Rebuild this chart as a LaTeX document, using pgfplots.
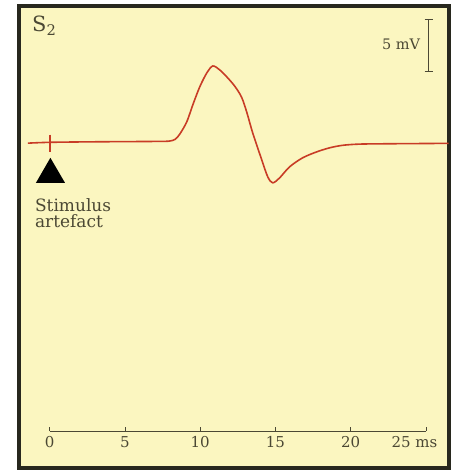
\documentclass[border=0pt]{standalone}
\usepackage{fontspec}
\setmainfont{DejaVu Serif}
\usepackage{pgfplots}
\pgfplotsset{compat=1.18}
\definecolor{paper}{RGB}{251,246,192}
\definecolor{frame}{RGB}{40,40,30}
\definecolor{ink}{RGB}{75,72,52}
\definecolor{trace}{RGB}{200,60,38}

\begin{document}
\begin{tikzpicture}
\begin{axis}[
    scale only axis,
    width=430pt, height=462pt,
    xmin=-2.037, xmax=26.5,
    ymin=-31.3, ymax=13.125,
    xtick=\empty, ytick=\empty,
    axis line style={line width=4pt, color=frame},
    axis background/.style={fill=paper},
]

% compound action potential (ms, mV)
\addplot[trace, line width=1.6pt, smooth, tension=0.5] coordinates {
    (-1.44,-0.03) (0,0.05) (3,0.1) (7.32,0.14) (8.0,0.18) (8.35,0.35) (8.65,0.85)
    (9.11,2.02) (9.51,3.65) (9.97,5.38) (10.44,6.73) (10.84,7.40)
    (11.30,7.02) (11.80,6.3) (12.3,5.45) (12.75,4.4) (13.09,2.98) (13.49,0.96)
    (14.09,-1.63) (14.49,-3.27) (14.82,-3.85) (15.28,-3.37) (15.94,-2.31)
    (16.81,-1.44) (17.74,-0.87) (18.60,-0.48) (19.4,-0.25) (20.3,-0.14)
    (21.5,-0.1) (26.5,-0.05)
};
% stimulus artefact
\addplot[trace, line width=2.2pt] coordinates {(0,0.8) (0,-0.9)};
\addplot[fill=black, draw=none] coordinates {(-0.91,-3.85) (1.02,-3.85) (0.05,-1.44) (-0.91,-3.85)};

% time scale
\draw[ink, line width=0.8pt] (axis cs:0,-27.76) -- (axis cs:25,-27.76);
\pgfplotsinvokeforeach{0,5,10,15,20,25}{
    \draw[ink, line width=0.8pt] (axis cs:#1,-27.76) -- (axis cs:#1,-27.4);
}
\pgfplotsinvokeforeach{0,5,10,15,20}{
    \node[ink, anchor=base, font=\fontsize{15}{15}\selectfont] at (axis cs:#1,-29.33) {#1};
}
\node[ink, anchor=base east, font=\fontsize{15}{15}\selectfont, inner sep=0pt] at (axis cs:25.77,-29.33) {25 ms};

% voltage scale bar
\draw[ink, line width=0.8pt] (axis cs:25.19,11.89) -- (axis cs:25.19,6.89);
\draw[ink, line width=0.8pt] (axis cs:24.92,11.89) -- (axis cs:25.46,11.89);
\draw[ink, line width=0.8pt] (axis cs:24.92,6.89) -- (axis cs:25.46,6.89);
\node[ink, anchor=east, inner sep=0pt, font=\fontsize{14.5}{14.5}\selectfont] at (axis cs:24.63,9.5) {5 mV};

\node[ink, anchor=west, inner sep=0pt, font=\fontsize{21}{21}\selectfont] at (axis cs:-1.17,11.3) {S\textsubscript{2}};
\node[ink, anchor=north west, inner sep=0pt, align=left, font=\fontsize{17}{16.5}\selectfont] at (axis cs:-0.98,-5.3) {Stimulus\\artefact};
\end{axis}
\path (current axis.north west) ++(-19pt,6.5pt);
\path (current axis.south east) ++(1pt,-1pt);
\end{tikzpicture}
\end{document}
